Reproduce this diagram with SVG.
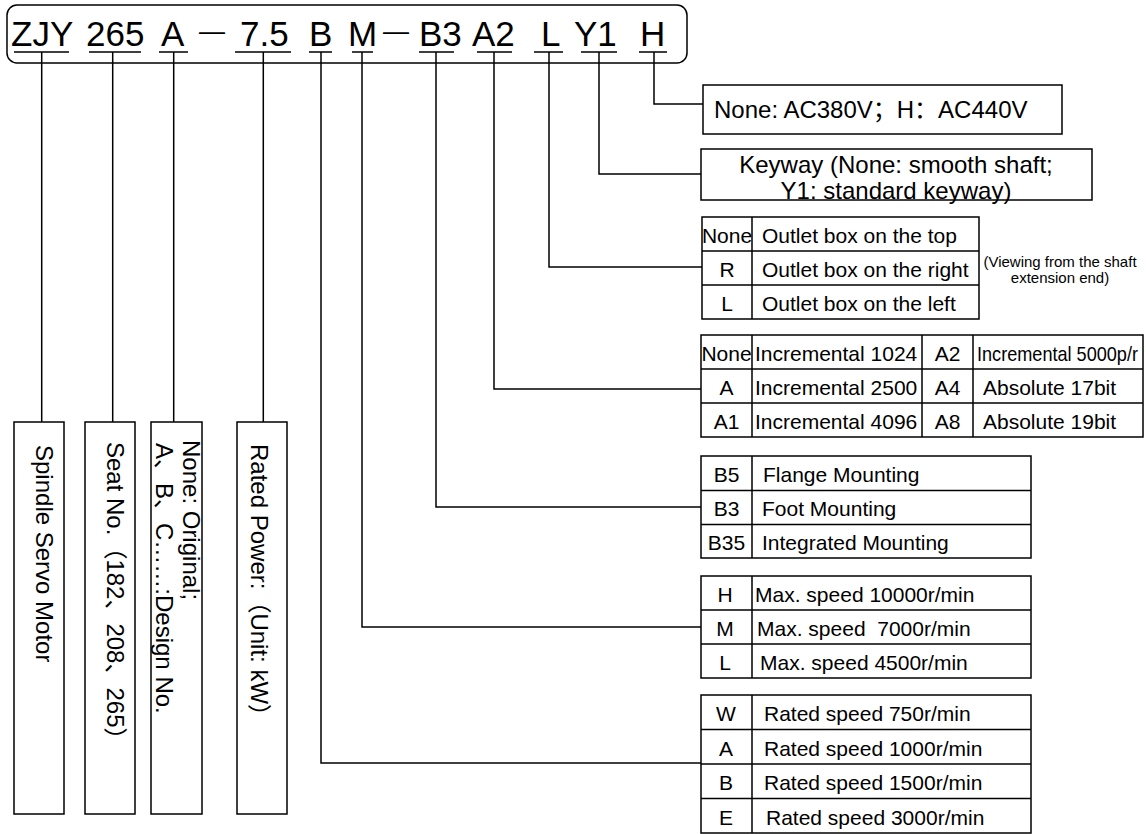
<svg xmlns="http://www.w3.org/2000/svg" width="1146" height="834" viewBox="0 0 1146 834">
<style>
.t{font-family:"Liberation Sans","Noto Sans CJK SC",sans-serif;fill:#000}
.hd{font-size:35px}
.dash{font-size:26px}
.big{font-size:24px}
.tb{font-size:21px}
.sm{font-size:15px}
.mid{text-anchor:middle}
.ln{stroke:#000;stroke-width:1.5;fill:none}
.bx{fill:#fff;stroke:#000;stroke-width:1.5}
</style>
<rect width="1146" height="834" fill="#fff"/>
<g id="header">
<rect class="bx" x="7" y="5" width="680" height="58" rx="10"/>
<text class="t hd" x="11" y="46">ZJY</text>
<text class="t hd" x="86" y="46">265</text>
<text class="t hd" x="161" y="46">A</text>
<text class="t dash" x="199" y="40">—</text>
<text class="t hd" x="240" y="46">7.5</text>
<text class="t hd" x="309" y="46">B</text>
<text class="t hd" x="348" y="46">M</text>
<text class="t dash" x="383" y="40">—</text>
<text class="t hd" x="419" y="46">B3</text>
<text class="t hd" x="472" y="46">A2</text>
<text class="t hd" x="541" y="46">L</text>
<text class="t hd" x="574" y="46">Y1</text>
<text class="t hd" x="640" y="46">H</text>
<path class="ln" d="M14 52H69M89 52H141M159 52H188M235 52H291M309 52H332M352 52H373M419 52H454M477 52H512M534 52H563M581 52H617M639 52H667"/>
</g>
<g id="connectors">
<path class="ln" d="M41.7 52V422"/>
<path class="ln" d="M112.7 52V422"/>
<path class="ln" d="M173.7 52V422"/>
<path class="ln" d="M263.3 52V422"/>
<path class="ln" d="M654 52V104H703"/>
<path class="ln" d="M599 52V174H701"/>
<path class="ln" d="M549 52V267H702"/>
<path class="ln" d="M494 52V389H701"/>
<path class="ln" d="M436 52V507H701"/>
<path class="ln" d="M362 52V627H701"/>
<path class="ln" d="M321 52V763H701"/>
</g>
<g id="motor-type">
<rect class="bx" x="14" y="422" width="50" height="392"/>
<text class="t big" x="36" y="445" transform="rotate(90 36 445)">Spindle Servo Motor</text>
</g>
<g id="seat-no">
<rect class="bx" x="85" y="422" width="50" height="392"/>
<text class="t big" x="107" y="442" transform="rotate(90 107 442)">Seat No.（182、208、265）</text>
</g>
<g id="design-no">
<rect class="bx" x="151" y="422" width="51" height="392"/>
<text class="t big" x="183" y="440" transform="rotate(90 183 440)">None: Original;</text>
<text class="t big" x="156" y="443" transform="rotate(90 156 443)">A、B、C……:Design No.</text>
</g>
<g id="rated-power">
<rect class="bx" x="237" y="422" width="50" height="392"/>
<text class="t big" x="251" y="444" transform="rotate(90 251 444)">Rated Power:（Unit: kW）</text>
</g>
<g id="voltage">
<rect class="bx" x="703" y="85" width="359" height="49"/>
<text class="t big" x="714" y="118">None: AC380V；H：AC440V</text>
</g>
<g id="keyway">
<rect class="bx" x="701" y="149" width="391" height="51"/>
<text class="t big mid" x="896" y="173">Keyway (None: smooth shaft;</text>
<text class="t big mid" x="896" y="199">Y1: standard keyway)</text>
</g>
<g id="outlet">
<rect class="bx" x="702" y="217" width="277" height="102"/>
<path class="ln" d="M702 251H979M702 285H979M752 217V319"/>
<text class="t tb mid" x="727" y="243">None</text>
<text class="t tb mid" x="727" y="277">R</text>
<text class="t tb mid" x="727" y="311">L</text>
<text class="t tb" x="762" y="243">Outlet box on the top</text>
<text class="t tb" x="762" y="277">Outlet box on the right</text>
<text class="t tb" x="762" y="311">Outlet box on the left</text>
<text class="t sm mid" x="1060" y="267">(Viewing from the shaft</text>
<text class="t sm mid" x="1060" y="283">extension end)</text>
</g>
<g id="encoder">
<rect class="bx" x="701" y="335" width="442" height="102"/>
<path class="ln" d="M701 369H1143M701 403H1143M752 335V437M922 335V437M973 335V437"/>
<text class="t tb mid" x="726.5" y="361">None</text>
<text class="t tb mid" x="726.5" y="395">A</text>
<text class="t tb mid" x="726.5" y="429">A1</text>
<text class="t tb" x="755" y="361">Incremental 1024</text>
<text class="t tb" x="755" y="395">Incremental 2500</text>
<text class="t tb" x="755" y="429">Incremental 4096</text>
<text class="t tb mid" x="947.5" y="361">A2</text>
<text class="t tb mid" x="947.5" y="395">A4</text>
<text class="t tb mid" x="947.5" y="429">A8</text>
<text class="t tb" x="977" y="361" textLength="161" lengthAdjust="spacingAndGlyphs">Incremental 5000p/r</text>
<text class="t tb" x="983" y="395">Absolute 17bit</text>
<text class="t tb" x="983" y="429">Absolute 19bit</text>
</g>
<g id="mounting">
<rect class="bx" x="701" y="456" width="330" height="102"/>
<path class="ln" d="M701 490.5H1031M701 524.5H1031M752 456V558"/>
<text class="t tb mid" x="726.5" y="482">B5</text>
<text class="t tb mid" x="726.5" y="516">B3</text>
<text class="t tb mid" x="726.5" y="550">B35</text>
<text class="t tb" x="763" y="482">Flange Mounting</text>
<text class="t tb" x="762" y="516">Foot Mounting</text>
<text class="t tb" x="762" y="550">Integrated Mounting</text>
</g>
<g id="max-speed">
<rect class="bx" x="701" y="576" width="330" height="102"/>
<path class="ln" d="M701 610H1031M701 644H1031M752 576V678"/>
<text class="t tb mid" x="725" y="602">H</text>
<text class="t tb mid" x="725" y="636">M</text>
<text class="t tb mid" x="725" y="670">L</text>
<text class="t tb" x="755" y="602">Max. speed 10000r/min</text>
<text class="t tb" x="757" y="636" xml:space="preserve">Max. speed  7000r/min</text>
<text class="t tb" x="760" y="670">Max. speed 4500r/min</text>
</g>
<g id="rated-speed">
<rect class="bx" x="701" y="695" width="330" height="138"/>
<path class="ln" d="M701 729.5H1031M701 764H1031M701 798.5H1031M752 695V833"/>
<text class="t tb mid" x="726" y="721">W</text>
<text class="t tb mid" x="726" y="755.5">A</text>
<text class="t tb mid" x="726" y="790">B</text>
<text class="t tb mid" x="726" y="824.5">E</text>
<text class="t tb" x="764" y="721">Rated speed 750r/min</text>
<text class="t tb" x="764" y="755.5">Rated speed 1000r/min</text>
<text class="t tb" x="764" y="790">Rated speed 1500r/min</text>
<text class="t tb" x="766" y="824.5">Rated speed 3000r/min</text>
</g>
</svg>
